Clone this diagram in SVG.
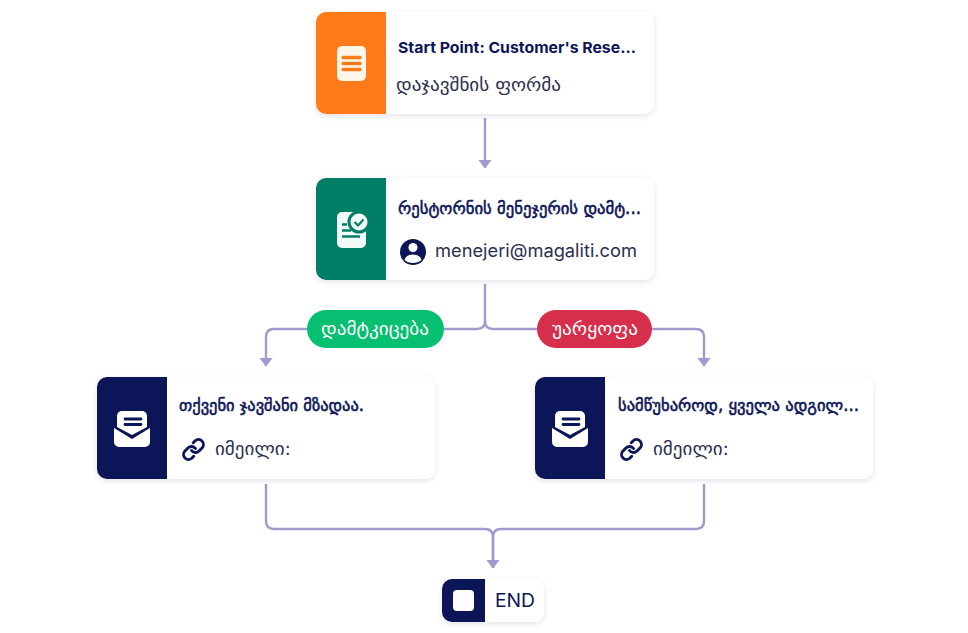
<svg xmlns="http://www.w3.org/2000/svg" width="968" height="633" viewBox="0 0 968 633">
<defs>
<filter id="sh" x="-10%" y="-20%" width="120%" height="145%"><feDropShadow dx="0" dy="2" stdDeviation="3" flood-color="#1a2050" flood-opacity="0.11"/></filter>
<marker id="ah" markerUnits="userSpaceOnUse" markerWidth="14" markerHeight="9" refX="7" refY="8.500" orient="0" viewBox="0 0 14 9"><path d="M0 0H14L7 9Z" fill="#9e9bcf"/></marker>
<g id="mail"><path d="M3 50V39A5 5 0 0 1 8 34H28A5 5 0 0 1 33 39V50L18 58Z" fill="#fff"/><path d="M0 51L18 62L36 51V65A5 5 0 0 1 31 70H5A5 5 0 0 1 0 65Z" fill="#fff"/><path d="M11 42H27M11 47.500H27" stroke="#0c1557" stroke-width="2.800" stroke-linecap="round"/></g>
<g id="link"><path d="M10 13a5 5 0 0 0 7.540.540l3-3a5 5 0 0 0-7.070-7.070l-1.720 1.710M14 11a5 5 0 0 0-7.540-.540l-3 3a5 5 0 0 0 7.070 7.070l1.710-1.710" fill="none" stroke="#0c1557" stroke-width="2.900" stroke-linecap="round" stroke-linejoin="round"/></g>
</defs>
<style>
.card{fill:#fff;filter:url(#sh)}
.t{font-family:"Inter","DejaVu Sans",sans-serif;font-weight:700;font-size:15px;fill:#0c1557}
.gb{font-family:"DejaVu Sans",sans-serif;font-size:17px;fill:#0c1557;stroke:#0c1557;stroke-width:.55px}
.s{font-family:"DejaVu Sans",sans-serif;font-size:18px;fill:#2c3050}
.m{font-family:"Inter","Liberation Sans",sans-serif;font-size:18px;fill:#2c3050}
.l{font-family:"DejaVu Sans",sans-serif;font-size:18.500px;fill:#fff}
.c{fill:none;stroke:#9e9bcf;stroke-width:2.400;stroke-linejoin:round}
.navy{fill:#0c1557}
</style>
<rect width="968" height="633" fill="#fff"/>
<g id="connectors">
<path class="c" d="M485 118V168" marker-end="url(#ah)"/>
<path class="c" d="M485 284V321Q485 329 477 329H274Q266 329 266 337V366" marker-end="url(#ah)"/>
<path class="c" d="M485 321Q485 329 493 329H696Q704 329 704 337V366" marker-end="url(#ah)"/>
<path class="c" d="M266 484V521Q266 529 274 529H485Q493 529 493 537V568"/>
<path class="c" d="M704 484V521Q704 529 696 529H501Q493 529 493 537V568" marker-end="url(#ah)"/>
</g>
<g id="label-approve"><rect x="307" y="310" width="137" height="38" rx="19" fill="#06bf70"/><text class="l" x="321" y="335" textLength="108" lengthAdjust="spacingAndGlyphs">დამტკიცება</text></g>
<g id="label-reject"><rect x="537" y="310" width="115" height="38" rx="19" fill="#d62f4b"/><text class="l" x="552" y="335" textLength="86" lengthAdjust="spacingAndGlyphs">უარყოფა</text></g>
<g id="node-start">
<rect class="card" x="316" y="12" width="338" height="102" rx="10"/>
<path d="M386 12H326A10 10 0 0 0 316 22V104A10 10 0 0 0 326 114H386Z" fill="#ff7b1a"/>
<rect x="337" y="46" width="29" height="35" rx="5" fill="#fff6ea"/>
<path d="M343 57.500H360M343 63.500H360M343 69.500H360" stroke="#ff7b1a" stroke-width="3.400" stroke-linecap="round"/>
<text class="t" x="398" y="53" textLength="238" lengthAdjust="spacingAndGlyphs">Start Point: Customer's Rese...</text>
<text class="s" x="396" y="91" textLength="165" lengthAdjust="spacingAndGlyphs">დაჯავშნის ფორმა</text>
</g>
<g id="node-manager">
<rect class="card" x="316" y="178" width="338" height="102" rx="10"/>
<path d="M386 178H326A10 10 0 0 0 316 188V270A10 10 0 0 0 326 280H386Z" fill="#007e66"/>
<rect x="337" y="212" width="29" height="36" rx="5" fill="#f2fbf8"/>
<circle cx="359" cy="222" r="11.500" fill="#007e66"/>
<circle cx="359" cy="222" r="8.500" fill="#f2fbf8"/>
<path d="M354.500 222L358 225.500L363.500 219.500" fill="none" stroke="#007e66" stroke-width="2.200"/>
<path d="M342 224.500H347M342 230.500H351M342 236.500H360" stroke="#007e66" stroke-width="2.600"/>
<text class="gb" x="398" y="214" textLength="243" lengthAdjust="spacingAndGlyphs">რესტორნის მენეჯერის დამტ...</text>
<circle cx="413" cy="252" r="13" class="navy"/>
<circle cx="413" cy="247.500" r="4.500" fill="#fff"/>
<path d="M404.500 260Q406 254.500 413 254.500Q420 254.500 421.500 260Q418 263 413 263Q408 263 404.500 260Z" fill="#fff"/>
<text class="m" x="435" y="257" textLength="202" lengthAdjust="spacingAndGlyphs">menejeri@magaliti.com</text>
</g>
<g id="node-confirmed">
<rect class="card" x="97" y="377" width="338" height="102" rx="10"/>
<path d="M167 377H107A10 10 0 0 0 97 387V469A10 10 0 0 0 107 479H167Z" fill="#0c1557"/>
<use href="#mail" x="114" y="377"/>
<use href="#link" x="181.500" y="437.500"/>
<text class="gb" x="179" y="411" textLength="185" lengthAdjust="spacingAndGlyphs">თქვენი ჯავშანი მზადაა.</text>
<text class="s" x="215" y="455" textLength="76" lengthAdjust="spacingAndGlyphs">იმეილი:</text>
</g>
<g id="node-declined">
<rect class="card" x="535" y="377" width="338" height="102" rx="10"/>
<path d="M605 377H545A10 10 0 0 0 535 387V469A10 10 0 0 0 545 479H605Z" fill="#0c1557"/>
<use href="#mail" x="552" y="377"/>
<use href="#link" x="619.500" y="437.500"/>
<text class="gb" x="618" y="411" textLength="241" lengthAdjust="spacingAndGlyphs">სამწუხაროდ, ყველა ადგილ...</text>
<text class="s" x="653" y="455" textLength="76" lengthAdjust="spacingAndGlyphs">იმეილი:</text>
</g>
<g id="node-end">
<rect class="card" x="442" y="579" width="102" height="43" rx="10"/>
<path d="M485 579H452A10 10 0 0 0 442 589V612A10 10 0 0 0 452 622H485Z" fill="#0c1557"/>
<rect x="453" y="590" width="21" height="21" rx="4" fill="#fff"/>
<text class="m" x="495" y="607" style="fill:#0c1557" textLength="40" lengthAdjust="spacingAndGlyphs">END</text>
</g>
</svg>
